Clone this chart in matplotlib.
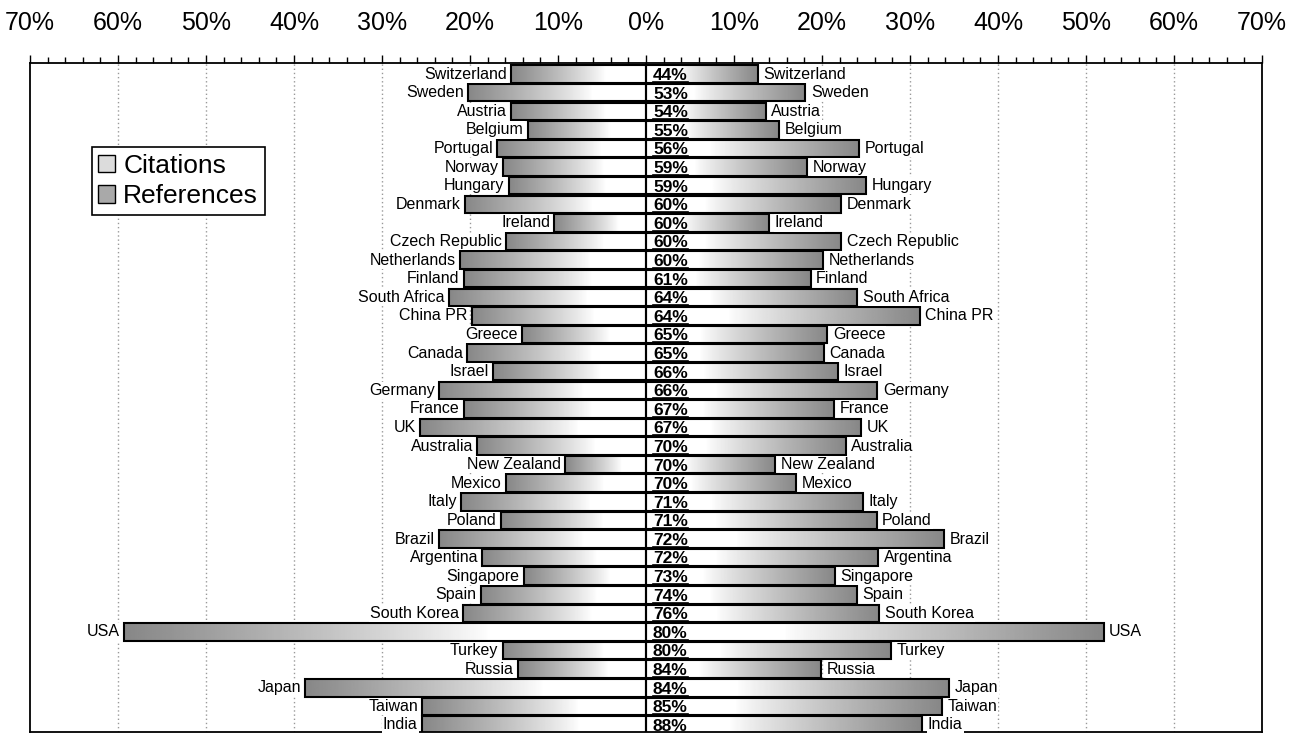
import numpy as np
import matplotlib
matplotlib.use("Agg")
import matplotlib.pyplot as plt
from matplotlib.patches import Patch

plt.rcParams['font.family'] = ['Liberation Sans', 'DejaVu Sans']

countries = ['Switzerland', 'Sweden', 'Austria', 'Belgium', 'Portugal', 'Norway',
             'Hungary', 'Denmark', 'Ireland', 'Czech Republic', 'Netherlands',
             'Finland', 'South Africa', 'China PR', 'Greece', 'Canada', 'Israel',
             'Germany', 'France', 'UK', 'Australia', 'New Zealand', 'Mexico',
             'Italy', 'Poland', 'Brazil', 'Argentina', 'Singapore', 'Spain',
             'South Korea', 'USA', 'Turkey', 'Russia', 'Japan', 'Taiwan', 'India']

# left side
citations = [15.3, 20.2, 15.3, 13.4, 16.9, 16.3, 15.6, 20.6, 10.4, 15.9, 21.1,
             20.7, 22.4, 19.8, 14.1, 20.3, 17.4, 23.5, 20.7, 25.7, 19.2, 9.2,
             15.9, 21.0, 16.5, 23.5, 18.6, 13.9, 18.8, 20.8, 59.3, 16.3, 14.6,
             38.7, 25.4, 25.5]

# right side
references = [12.7, 18.1, 13.6, 15.1, 24.2, 18.3, 25.0, 22.2, 14.0, 22.2, 20.1,
              18.7, 24.0, 31.1, 20.6, 20.2, 21.8, 26.3, 21.4, 24.4, 22.7, 14.7,
              17.1, 24.7, 26.2, 33.9, 26.4, 21.5, 24.0, 26.5, 52.0, 27.8, 19.9,
              34.4, 33.6, 31.4]

center_pct = [44, 53, 54, 55, 56, 59, 59, 60, 60, 60, 60, 61, 64, 64, 65, 65, 66,
              66, 67, 67, 70, 70, 70, 71, 71, 72, 72, 73, 74, 76, 80, 80, 84, 84,
              85, 88]

tick_vals = list(range(-70, 71, 10))
tick_labels = [f"{abs(v)}%" for v in tick_vals]

fig = plt.figure(figsize=(12.93, 7.34), dpi=100)
ax = fig.add_axes([0.0232, 0.0027, 0.9528, 0.9115])

h = 0.94
t = np.linspace(0, 1, 256)


def shade(t):
    # white near the centre, grey towards the outer end of a bar
    return 1 - 0.47 * np.clip((t - 0.3) / 0.7, 0, 1) ** 0.85


y = np.arange(len(countries))
for i in y:
    c = citations[i]
    r = references[i]
    ax.imshow(shade(t[::-1])[None, :], extent=(-c, 0, i + h / 2, i - h / 2),
              cmap='gray', vmin=0, vmax=1, aspect='auto',
              interpolation='bilinear', zorder=2)
    ax.imshow(shade(t)[None, :], extent=(0, r, i + h / 2, i - h / 2),
              cmap='gray', vmin=0, vmax=1, aspect='auto',
              interpolation='bilinear', zorder=2)

ax.barh(y, [-c for c in citations], height=h, facecolor='none',
        edgecolor='black', linewidth=1.5, zorder=3)
ax.barh(y, references, height=h, facecolor='none',
        edgecolor='black', linewidth=1.5, zorder=3)

box = dict(facecolor='white', edgecolor='none', pad=0.8)
for i in y:
    ax.annotate(countries[i], (-citations[i], i), xytext=(-3, 0),
                textcoords='offset points', ha='right', va='center',
                fontsize=11.5, bbox=box, zorder=5)
    ax.annotate(countries[i], (references[i], i), xytext=(4, 0),
                textcoords='offset points', ha='left', va='center',
                fontsize=11.5, bbox=box, zorder=5)

pct_texts = []
for i in y:
    txt = ax.annotate(f"{center_pct[i]}%", (0, i), xytext=(5, -1),
                      textcoords='offset points', ha='left', va='center',
                      fontsize=12.5, fontweight='bold', zorder=6)
    pct_texts.append(txt)

ax.axvline(0, color='black', linewidth=1.2, zorder=4)
for v in tick_vals:
    if v not in (-70, 0, 70):
        ax.axvline(v, color='#999999', linewidth=1, linestyle=(0, (1, 2)), zorder=1)

ax.set_xlim(-70, 70)
ax.set_ylim(35.38, -0.6)

ax.xaxis.tick_top()
ax.set_xticks(tick_vals)
ax.set_xticklabels(tick_labels, fontsize=18)
ax.set_xticks(np.arange(-70, 71, 2), minor=True)
ax.tick_params(axis='x', which='major', direction='out', length=6, width=1, pad=14)
ax.tick_params(axis='x', which='minor', direction='out', length=4, width=1)
ax.set_yticks([])
for s in ax.spines.values():
    s.set_linewidth(1.3)

handles = [Patch(facecolor='#dcdcdc', edgecolor='black', label='Citations'),
           Patch(facecolor='#a9a9a9', edgecolor='black', label='References')]
leg = ax.legend(handles=handles, loc='upper left', bbox_to_anchor=(0.05, 0.874),
                borderaxespad=0, fontsize=19, fancybox=False, framealpha=1,
                edgecolor='black', handlelength=0.65, handleheight=0.65,
                handletextpad=0.3, borderpad=0.25, labelspacing=0.25)
leg.get_frame().set_linewidth(1.2)
leg.set_zorder(7)

# underline the centre percentages
fig.canvas.draw()
inv = ax.transData.inverted()
for txt in pct_texts:
    bb = txt.get_window_extent()
    (x0, y0), (x1, _) = inv.transform([(bb.x0, bb.y0 + 1), (bb.x1, bb.y0 + 1)])
    ax.plot([x0, x1], [y0, y0], color='black', linewidth=1.2, zorder=6)

fig.savefig('out.png', dpi=100)
